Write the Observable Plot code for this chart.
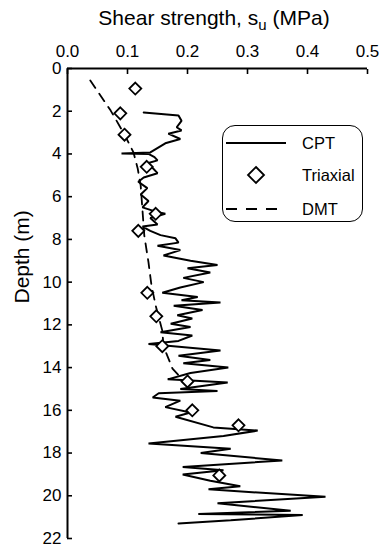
<!DOCTYPE html>
<html><head><meta charset="utf-8">
<script src="https://cdn.jsdelivr.net/npm/d3@7"></script>
<script src="https://cdn.jsdelivr.net/npm/@observablehq/plot@0.6"></script>
<style>
body{margin:0;background:#fff;font-family:"Liberation Sans",Arial,sans-serif;color:#000;}
#wrap{position:relative;width:379px;height:548px;}
#title{position:absolute;left:0;top:7px;width:428px;text-align:center;font-size:21px;line-height:21px;white-space:nowrap;}
#title sub{font-size:15px;vertical-align:-5px;line-height:0;}
#legend{position:absolute;left:222px;top:125px;width:139px;height:95px;border:1.6px solid #000;border-radius:13px;}
#legend .row{position:absolute;left:0;width:139px;height:24px;}
#legend svg{position:absolute;left:2px;top:0;}
#legend span{position:absolute;left:79px;top:3px;font-size:16.5px;line-height:18px;}
</style></head>
<body>
<div id="wrap">
  <div id="chart"></div>
  <div id="title">Shear strength, s<sub>u</sub> (MPa)</div>
  <div id="legend"></div>
</div>
<script>
// Data
const cptDepth = [2.06,2.2,2.45,2.75,2.9,3.05,3.3,3.5,3.93,3.98,4.0,4.15,4.3,4.45,4.6,4.9,5.1,5.3,5.6,5.9,6.2,6.5,6.7,6.8,7.0,7.3,7.4,7.6,7.8,7.95,8.15,8.3,8.5,8.75,9.0,9.2,9.35,9.55,9.8,10.0,10.25,10.5,10.7,10.85,10.95,11.1,11.3,11.55,11.7,11.95,12.1,12.35,12.5,12.75,12.9,13.2,13.45,13.65,13.8,14.0,14.25,14.55,14.7,15.0,15.1,15.2,15.4,15.55,15.85,16.1,16.3,16.8,16.95,17.2,17.55,17.8,18.0,18.35,18.65,18.8,19.0,19.3,19.55,19.7,20.05,20.35,20.7,20.85,20.9,21.15,21.3];
const cptSu = [0.127,0.185,0.19,0.182,0.19,0.168,0.188,0.163,0.138,0.09,0.135,0.145,0.15,0.132,0.14,0.15,0.127,0.118,0.133,0.122,0.135,0.125,0.147,0.163,0.138,0.15,0.125,0.138,0.155,0.18,0.185,0.15,0.188,0.16,0.205,0.25,0.2,0.238,0.193,0.227,0.188,0.158,0.217,0.19,0.255,0.177,0.225,0.183,0.208,0.172,0.205,0.155,0.208,0.185,0.135,0.255,0.185,0.238,0.193,0.268,0.205,0.167,0.267,0.188,0.25,0.152,0.142,0.188,0.163,0.205,0.18,0.243,0.317,0.26,0.135,0.272,0.222,0.358,0.192,0.26,0.192,0.238,0.288,0.235,0.43,0.25,0.372,0.218,0.392,0.272,0.185];
const triaxDepth = [0.94,2.1,3.1,4.6,6.8,7.6,10.5,11.6,13.0,14.65,16.0,16.7,19.05];
const triaxSu = [0.113,0.088,0.095,0.132,0.147,0.118,0.133,0.148,0.158,0.2,0.208,0.285,0.253];
const dmtDepth = [0.56,1.97,3.09,3.93,4.68,5.48,6.65,7.82,9.08,10.16,11.1,12.27,13.0,14.05,14.6];
const dmtSu = [0.038,0.072,0.095,0.11,0.117,0.122,0.125,0.128,0.135,0.14,0.147,0.158,0.16,0.175,0.193];
const xTicks = [0,0.1,0.2,0.3,0.4,0.5];
const yTicks = [0,2,4,6,8,10,12,14,16,18,20,22];
const legendLabels = ["CPT","Triaxial","DMT"];

const cpt = cptDepth.map((d,i)=>({depth:d, su:cptSu[i]}));
const tri = triaxDepth.map((d,i)=>({depth:d, su:triaxSu[i]}));
const dmt = dmtDepth.map((d,i)=>({depth:d, su:dmtSu[i]}));

const chart = Plot.plot({
  width:379, height:548,
  marginTop:68, marginLeft:67, marginRight:12, marginBottom:10,
  style:{fontFamily:"'Liberation Sans', Arial, sans-serif", fontSize:"17px", color:"#000", background:"#fff"},
  x:{domain:[0,0.5]},
  y:{domain:[0,22], reverse:true},
  marks:[
    Plot.line(cpt,{x:"su", y:"depth", stroke:"#000", strokeWidth:2, strokeLinejoin:"miter"}),
    Plot.line(dmt,{x:"su", y:"depth", stroke:"#000", strokeWidth:1.8, strokeDasharray:"9,7"}),
    Plot.dot(tri,{x:"su", y:"depth", symbol:"diamond2", r:5.4, stroke:"#000", fill:"#fff", strokeWidth:1.8}),
    Plot.ruleY([0],{stroke:"#000", strokeWidth:2}),
    Plot.ruleX([0],{stroke:"#000", strokeWidth:2}),
    Plot.axisX(xTicks,{anchor:"top", tickSize:-5, tickPadding:17, tickFormat:d3.format(".1f"), label:null, strokeWidth:1.6}),
    Plot.axisY(yTicks,{anchor:"left", tickSize:-5, tickPadding:11, tickFormat:d3.format("d"), label:null, strokeWidth:1.6}),
    Plot.text(["Depth (m)"],{text:d=>d, frameAnchor:"left", rotate:-90, dx:-45, fontSize:21})
  ]
});
document.getElementById("chart").appendChild(chart);

// Legend
const leg = document.getElementById("legend");
const swatches = [
  '<line x1="1" y1="12" x2="61" y2="12" stroke="#000" stroke-width="1.8"/>',
  '<path d="M31,4 L39,12 L31,20 L23,12 Z" fill="#fff" stroke="#000" stroke-width="1.8"/>',
  '<line x1="1" y1="12" x2="61" y2="12" stroke="#000" stroke-width="1.8" stroke-dasharray="11,9"/>'
];
const rowTops = [5, 37, 71];
legendLabels.forEach((lab,i)=>{
  const row = document.createElement("div");
  row.className = "row";
  row.style.top = rowTops[i] + "px";
  row.innerHTML = '<svg width="64" height="24">' + swatches[i] + '</svg><span>' + lab + '</span>';
  leg.appendChild(row);
});
</script>
</body></html>
